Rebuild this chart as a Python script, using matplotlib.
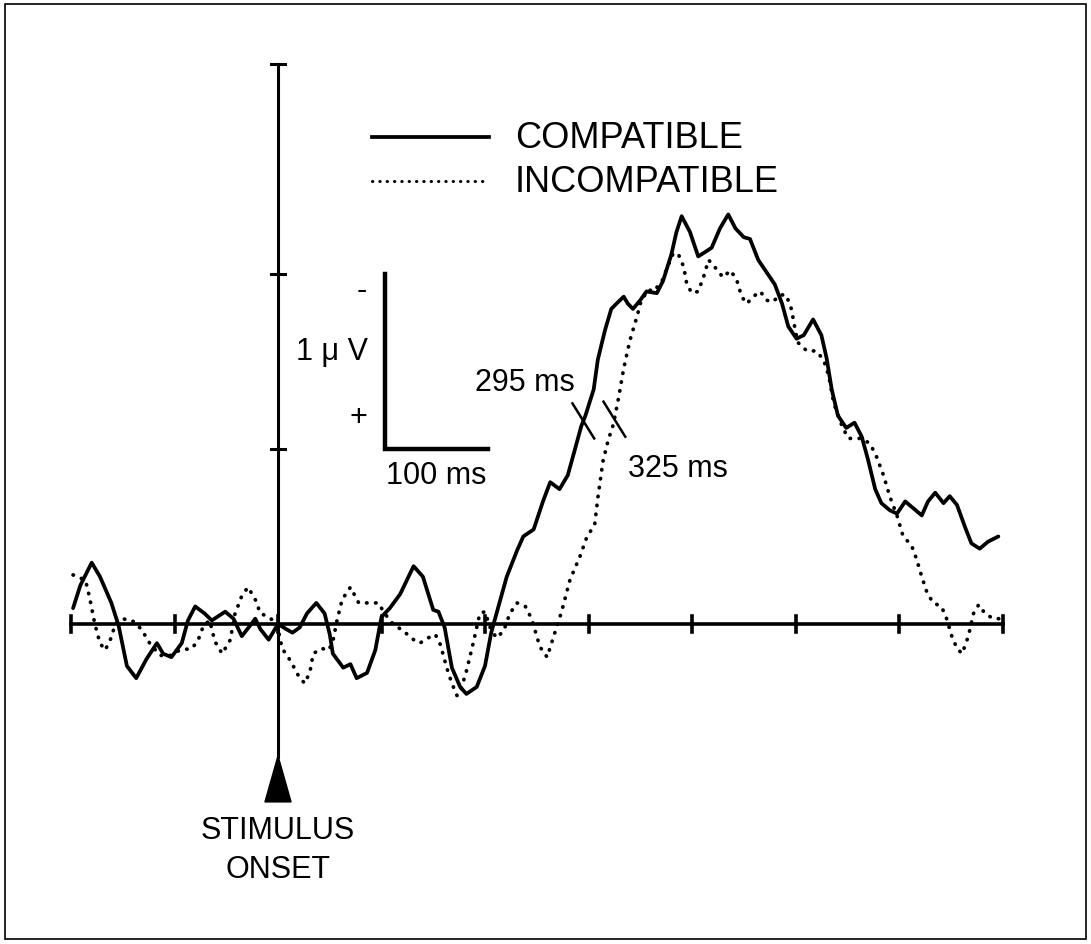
import numpy as np
import matplotlib.pyplot as plt
from matplotlib.patches import Polygon, Rectangle

plt.rcParams['font.family'] = ['Liberation Sans', 'DejaVu Sans']

# time (ms from stimulus onset) and amplitude (uV, negative plotted upward)
compatible_ms = [-198, -191, -180, -172, -161, -154, -146, -137, -127, -117, -111, -103,
                 -93, -87, -80, -71, -64, -51, -43, -35, -27, -22, -17, -9, 0, 8, 14,
                 21, 28, 37, 45, 50, 53, 63, 70, 76, 86, 94, 100, 108, 118, 131, 140,
                 150, 155, 161, 168, 176, 182, 192, 200, 206, 213, 221, 231, 237, 247,
                 256, 263, 272, 280, 287, 293, 297, 305, 309, 316, 322, 327, 334, 338,
                 343, 350, 356, 366, 372, 380, 385, 390, 398, 406, 414, 419, 427, 435,
                 442, 450, 456, 464, 472, 480, 487, 493, 501, 508, 517, 525, 530, 535,
                 541, 549, 557, 564, 570, 577, 583, 591, 598, 606, 614, 622, 628, 635,
                 643, 649, 656, 664, 670, 678, 686, 696]
compatible_uv = [-0.09, -0.22, -0.35, -0.27, -0.12, 0.01, 0.24, 0.31, 0.20, 0.11, 0.17, 0.19,
                 0.11, -0.02, -0.10, -0.06, -0.02, -0.07, -0.03, 0.07, 0.01, -0.03, 0.03,
                 0.09, 0.00, 0.03, 0.05, 0.02, -0.06, -0.12, -0.06, 0.06, 0.17, 0.25, 0.23,
                 0.31, 0.28, 0.15, -0.04, -0.09, -0.17, -0.33, -0.27, -0.08, -0.07, 0.02,
                 0.25, 0.36, 0.40, 0.36, 0.24, 0.05, -0.10, -0.27, -0.42, -0.50, -0.54,
                 -0.70, -0.81, -0.77, -0.85, -1.00, -1.13, -1.19, -1.34, -1.51, -1.68,
                 -1.80, -1.83, -1.87, -1.83, -1.80, -1.85, -1.90, -1.89, -1.96, -2.11,
                 -2.24, -2.33, -2.24, -2.10, -2.13, -2.15, -2.26, -2.34, -2.26, -2.21,
                 -2.20, -2.08, -2.01, -1.94, -1.83, -1.70, -1.63, -1.65, -1.74, -1.65,
                 -1.52, -1.34, -1.19, -1.12, -1.15, -1.07, -0.94, -0.77, -0.69, -0.65,
                 -0.63, -0.70, -0.66, -0.62, -0.70, -0.75, -0.69, -0.73, -0.68, -0.55,
                 -0.46, -0.43, -0.47, -0.50]

incompatible_ms = [-198, -186, -182, -177, -172, -167, -162, -157, -151, -141, -132, -124,
                   -114, -104, -95, -83, -77, -72, -66, -61, -54, -46, -42, -35, -29, -22,
                   -17, -9, -1, 4, 12, 21, 26, 31, 34, 42, 49, 53, 57, 62, 70, 78, 89, 97,
                   103, 111, 121, 131, 137, 145, 152, 157, 163, 168, 173, 177, 182, 189,
                   195, 200, 205, 211, 218, 224, 231, 239, 245, 253, 260, 268, 274, 282,
                   292, 298, 306, 309, 314, 319, 324, 329, 334, 340, 347, 351, 358, 363,
                   371, 375, 382, 387, 392, 395, 400, 406, 411, 416, 422, 430, 437, 443,
                   448, 453, 459, 466, 472, 478, 485, 491, 496, 502, 511, 520, 527, 532,
                   537, 545, 551, 557, 564, 572, 578, 585, 591, 598, 604, 612, 617, 622,
                   627, 633, 641, 646, 651, 656, 661, 667, 672, 677, 683, 691, 697]
incompatible_uv = [-0.28, -0.25, -0.15, 0.00, 0.11, 0.15, 0.09, 0.00, -0.03, -0.02, 0.03,
                   0.11, 0.18, 0.18, 0.15, 0.14, 0.09, 0.01, -0.02, 0.10, 0.17, 0.09, -0.05,
                   -0.16, -0.21, -0.14, -0.06, -0.04, 0.00, 0.14, 0.21, 0.31, 0.34, 0.27,
                   0.17, 0.14, 0.15, 0.10, -0.02, -0.14, -0.21, -0.12, -0.12, -0.12, -0.06,
                   0.00, 0.04, 0.09, 0.11, 0.08, 0.06, 0.12, 0.25, 0.34, 0.41, 0.37, 0.27,
                   0.10, -0.06, -0.07, 0.02, 0.08, 0.04, -0.06, -0.12, -0.10, -0.03, 0.13,
                   0.19, 0.04, -0.07, -0.25, -0.39, -0.49, -0.57, -0.72, -0.93, -1.05,
                   -1.14, -1.29, -1.46, -1.62, -1.76, -1.85, -1.91, -1.90, -1.96, -2.02,
                   -2.12, -2.11, -2.04, -1.94, -1.89, -1.90, -1.98, -2.08, -2.04, -1.98,
                   -2.02, -1.97, -1.87, -1.83, -1.87, -1.90, -1.85, -1.84, -1.88, -1.88,
                   -1.80, -1.61, -1.56, -1.56, -1.51, -1.42, -1.26, -1.13, -1.06, -1.06,
                   -1.06, -1.03, -0.96, -0.85, -0.73, -0.62, -0.50, -0.45, -0.37, -0.27,
                   -0.18, -0.12, -0.10, -0.03, 0.07, 0.14, 0.17, 0.07, -0.06, -0.11, -0.06,
                   -0.03, -0.03]

# half-amplitude latencies marked on each wave
latency_ms = [295, 325]
time_ticks = list(range(-200, 701, 100))
volt_ticks = [-1, -2]
axis_top = -3.2

dots = (0, (0.1, 2.3))

fig = plt.figure(figsize=(10.91, 9.45), dpi=100)
ax = fig.add_axes([0, 0, 1, 1])
ax.axis('off')
ax.set_xlim(-268.6, 785.5)
ax.set_ylim(1.829, -3.571)

# frame around the panel
fig.patches.append(Rectangle((5 / 1091, 5 / 945), 1081 / 1091, 935 / 945,
                             transform=fig.transFigure, fill=False,
                             edgecolor='black', lw=1.2))

# time axis with 100 ms ticks
ax.plot([time_ticks[0], time_ticks[-1]], [0, 0], color='black', lw=2.6)
for t in time_ticks:
    ax.plot([t, t], [-0.045, 0.045], color='black', lw=2.6)

# voltage axis at stimulus onset, running down to the onset arrow
ax.plot([0, 0], [axis_top, 0.76], color='black', lw=2.2)
for v in volt_ticks + [axis_top]:
    ax.plot([-7, 7], [v, v], color='black', lw=2.2)
ax.add_patch(Polygon([(0, 0.754), (-12.6, 1.017), (12.6, 1.017)],
                     closed=True, color='black'))
ax.text(0, 1.29, 'STIMULUS\nONSET', ha='center', va='center',
        fontsize=22, linespacing=1.4)

# waveforms
ax.plot(compatible_ms, compatible_uv, color='black', lw=2.7,
        solid_joinstyle='round', solid_capstyle='round')
ax.plot(incompatible_ms, incompatible_uv, color='black', lw=2.7,
        linestyle=dots, dash_capstyle='round')

# latency marks
for lat, ms, uv in zip(latency_ms, [compatible_ms, incompatible_ms],
                       [compatible_uv, incompatible_uv]):
    v = np.interp(lat, ms, uv)
    ax.plot([lat - 10.5, lat + 10.5], [v - 0.1, v + 0.1], color='black', lw=1.8)
ax.text(287, -1.38, f'{latency_ms[0]} ms', ha='right', va='center', fontsize=22)
ax.text(338, -0.89, f'{latency_ms[1]} ms', ha='left', va='center', fontsize=22)

# calibration bar: 1 uV by 100 ms
bar_t, bar_v = 103, -1.0
ax.plot([bar_t, bar_t, bar_t + 100], [bar_v - 1.0, bar_v, bar_v],
        color='black', lw=3.2, solid_joinstyle='miter')
ax.text(81, -1.91, '-', ha='center', va='center', fontsize=22)
ax.text(87, -1.56, '1 \u03bc V', ha='right', va='center', fontsize=22)
ax.text(78, -1.18, '+', ha='center', va='center', fontsize=22)
ax.text(bar_t + 50, -0.85, '100 ms', ha='center', va='center', fontsize=22)

# legend
ax.plot([91, 204], [-2.78, -2.78], color='black', lw=2.7)
ax.text(229, -2.78, 'COMPATIBLE', ha='left', va='center', fontsize=26)
ax.plot([91, 202], [-2.53, -2.53], color='black', lw=2.2, linestyle=dots,
        dash_capstyle='round')
ax.text(229, -2.53, 'INCOMPATIBLE', ha='left', va='center', fontsize=26)

fig.savefig('out.png', dpi=100)
